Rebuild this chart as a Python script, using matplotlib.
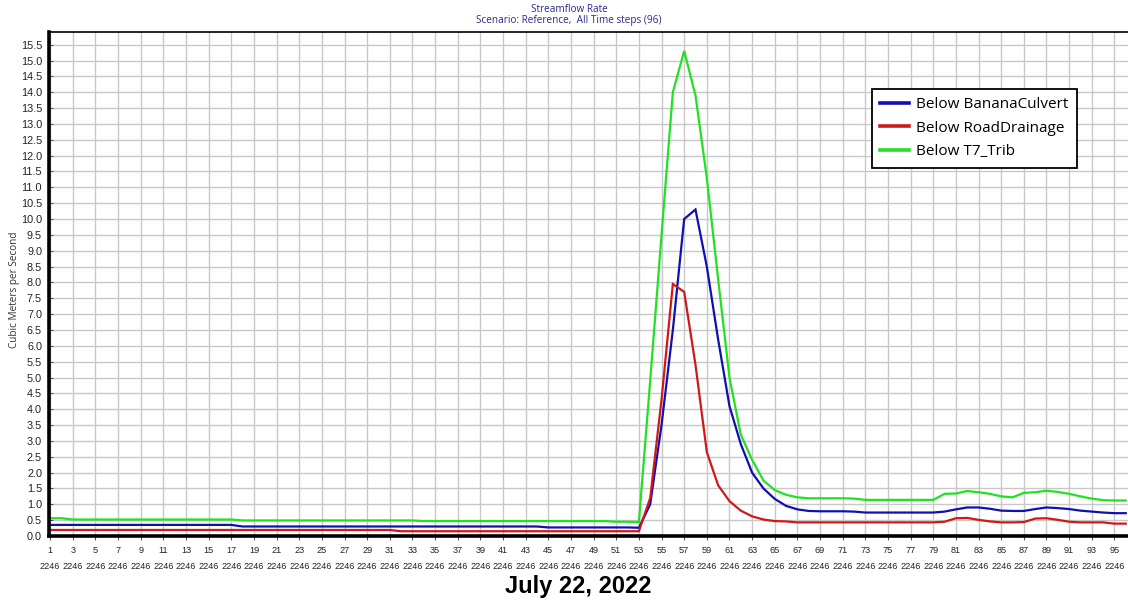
import matplotlib
matplotlib.use("Agg")
import matplotlib.pyplot as plt
import numpy as np

# ---------------- data ----------------
steps = list(range(1, 97))

banana_culvert = [
    0.35, 0.35, 0.35, 0.35, 0.35, 0.35, 0.35, 0.35, 0.35, 0.35,
    0.35, 0.35, 0.35, 0.35, 0.35, 0.35, 0.35, 0.30, 0.30, 0.30,
    0.30, 0.30, 0.30, 0.30, 0.30, 0.30, 0.30, 0.30, 0.30, 0.30,
    0.30, 0.30, 0.30, 0.30, 0.30, 0.30, 0.30, 0.30, 0.30, 0.30,
    0.30, 0.30, 0.30, 0.30, 0.27, 0.27, 0.27, 0.27, 0.27, 0.27,
    0.27, 0.27, 0.26, 1.00, 3.50, 6.50, 10.00, 10.30, 8.50, 6.20,
    4.10, 2.90, 2.00, 1.50, 1.17, 0.95, 0.84, 0.79, 0.78, 0.78,
    0.78, 0.77, 0.74, 0.74, 0.74, 0.74, 0.74, 0.74, 0.74, 0.77,
    0.84, 0.90, 0.90, 0.86, 0.80, 0.79, 0.79, 0.85, 0.90, 0.88,
    0.85, 0.80, 0.77, 0.74, 0.72, 0.72,
]

road_drainage = [
    0.19, 0.19, 0.19, 0.19, 0.19, 0.19, 0.19, 0.19, 0.19, 0.19,
    0.19, 0.19, 0.19, 0.19, 0.19, 0.19, 0.19, 0.19, 0.19, 0.19,
    0.19, 0.19, 0.19, 0.19, 0.19, 0.19, 0.19, 0.19, 0.19, 0.19,
    0.19, 0.15, 0.15, 0.15, 0.15, 0.15, 0.15, 0.15, 0.15, 0.15,
    0.15, 0.15, 0.15, 0.15, 0.15, 0.15, 0.15, 0.15, 0.15, 0.15,
    0.15, 0.15, 0.15, 1.20, 4.30, 7.95, 7.70, 5.40, 2.65, 1.60,
    1.10, 0.80, 0.62, 0.52, 0.47, 0.46, 0.43, 0.43, 0.43, 0.43,
    0.43, 0.43, 0.43, 0.43, 0.43, 0.43, 0.43, 0.43, 0.43, 0.45,
    0.56, 0.57, 0.51, 0.46, 0.43, 0.43, 0.44, 0.55, 0.56, 0.51,
    0.45, 0.43, 0.43, 0.43, 0.39, 0.39,
]

t7_trib = [
    0.56, 0.56, 0.52, 0.52, 0.52, 0.52, 0.52, 0.52, 0.52, 0.52,
    0.52, 0.52, 0.52, 0.52, 0.52, 0.52, 0.52, 0.49, 0.49, 0.49,
    0.49, 0.49, 0.49, 0.49, 0.49, 0.49, 0.49, 0.49, 0.49, 0.49,
    0.49, 0.49, 0.49, 0.47, 0.47, 0.47, 0.47, 0.47, 0.47, 0.47,
    0.47, 0.47, 0.47, 0.47, 0.47, 0.47, 0.47, 0.47, 0.47, 0.47,
    0.45, 0.45, 0.44, 4.90, 9.50, 14.00, 15.30, 13.90, 11.30, 8.10,
    5.00, 3.20, 2.40, 1.75, 1.45, 1.30, 1.22, 1.19, 1.19, 1.19,
    1.19, 1.18, 1.14, 1.14, 1.14, 1.14, 1.14, 1.14, 1.14, 1.33,
    1.34, 1.42, 1.38, 1.33, 1.25, 1.22, 1.36, 1.38, 1.43, 1.39,
    1.33, 1.25, 1.18, 1.13, 1.12, 1.12,
]

series_names = ["Below BananaCulvert", "Below RoadDrainage", "Below T7_Trib"]
tick_steps = list(range(1, 96, 2))
tick_day = "2246"
y_ticks = [i * 0.5 for i in range(32)]

title_line1 = "Streamflow Rate"
title_line2 = "Scenario: Reference,  All Time steps (96)"
y_label = "Cubic Meters per Second"
x_label = "July 22, 2022"

# ---------------- figure ----------------
W, H = 1128, 601
fig = plt.figure(figsize=(W / 100, H / 100), dpi=100)
fig.patch.set_facecolor("white")

ax_l, ax_r, ax_t, ax_b = 49, 1128, 32, 536
ax = fig.add_axes([ax_l / W, 1 - ax_b / H, (ax_r - ax_l) / W, (ax_b - ax_t) / H])

colors = ["#1010b0", "#d01818", "#22e022"]
for vals, name, c in zip([banana_culvert, road_drainage, t7_trib], series_names, colors):
    ax.plot(steps, vals, color=c, lw=1.6, label=name, solid_joinstyle="miter")

ax.set_xlim(0.9, 96.2)
ax.set_ylim(0, 15.9)

ax.set_xticks(tick_steps)
ax.set_xticklabels([f"{s}\n{tick_day}" for s in tick_steps])
ax.set_yticks(y_ticks)
ax.set_yticklabels([f"{v:.1f}" for v in y_ticks])

fam = ["Liberation Sans", "DejaVu Sans"]
for lbl in ax.get_xticklabels():
    lbl.set_fontfamily(fam)
    lbl.set_fontsize(6.6)
    lbl.set_linespacing(1.95)
    lbl.set_color("#222222")
for lbl in ax.get_yticklabels():
    lbl.set_fontfamily(fam)
    lbl.set_fontsize(7.8)
    lbl.set_color("#222222")

ax.tick_params(axis="x", direction="out", length=3, width=0.8, pad=4.5, color="#555555")
ax.tick_params(axis="y", direction="in", length=3, width=0.8, pad=5, color="#555555")

ax.grid(True, color="#c8c8c8", lw=1.0)
ax.set_axisbelow(True)

ax.spines["left"].set_linewidth(2.6)
ax.spines["bottom"].set_linewidth(2.6)
ax.spines["top"].set_linewidth(1.2)
ax.spines["right"].set_visible(False)
for s in ["left", "bottom", "top"]:
    ax.spines[s].set_color("black")

# titles
fig.text(569 / W, 1 - 9 / H, title_line1, ha="center", va="center",
         fontsize=7.2, color="#2a2a8a", family=["Open Sans", "DejaVu Sans"])
fig.text(569 / W, 1 - 20 / H, title_line2, ha="center", va="center",
         fontsize=7.2, color="#2a2a8a", family=["Open Sans", "DejaVu Sans"])

# y label
fig.text(15 / W, 1 - 290 / H, y_label, ha="center", va="center", rotation=90,
         fontsize=7.2, color="#333333", family=["Open Sans", "DejaVu Sans"])

# x label
fig.text(578 / W, 1 - 586 / H, x_label, ha="center", va="center",
         fontsize=17, fontweight="bold", color="black", family=fam)

# legend
leg = ax.legend(loc="upper left", bbox_to_anchor=(872 / W, 1 - 89 / H),
                bbox_transform=fig.transFigure, borderaxespad=0,
                frameon=True, fancybox=False, framealpha=1,
                prop=dict(family=["Open Sans", "DejaVu Sans"], size=11),
                handlelength=1.9, handletextpad=0.45, labelspacing=0.55,
                borderpad=0.55)
leg.get_frame().set_edgecolor("black")
leg.get_frame().set_linewidth(1.3)
for h in leg.get_lines():
    h.set_linewidth(2.6)

fig.savefig("out.png", dpi=100, facecolor="white")
